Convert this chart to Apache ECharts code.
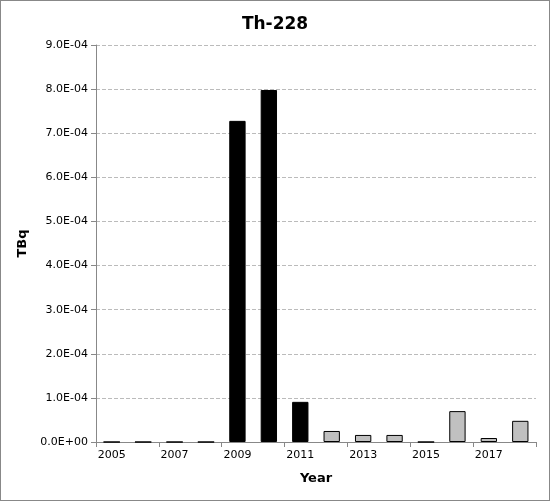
<!DOCTYPE html>
<html><head><meta charset="utf-8">
<script src="https://cdn.jsdelivr.net/npm/echarts@6/dist/echarts.min.js"></script>
<style>html,body{margin:0;padding:0;}#c{width:550px;height:501px;box-sizing:border-box;border:1px solid #888;}</style>
</head><body><div id="c"></div>
<script>
const years = ['2005','2006','2007','2008','2009','2010','2011','2012','2013','2014','2015','2016','2017','2018'];
const values = [0,0,0,0,7.28e-4,7.98e-4,0.91e-4,0.25e-4,0.16e-4,0.16e-4,0,0.70e-4,0.09e-4,0.48e-4];
const blackYears = ['2009','2010','2011'];
const chart = echarts.init(document.getElementById('c'));
chart.setOption({
  animation:false,
  title:{text:'Th-228',left:'center',top:10,textStyle:{fontFamily:'DejaVu Sans',fontSize:17,fontWeight:'bold',color:'#000'}},
  grid:{left:95,right:13,top:44,bottom:58},
  xAxis:{type:'category',data:years,name:'Year',nameLocation:'middle',nameGap:30,
    nameTextStyle:{fontFamily:'DejaVu Sans',fontSize:13,fontWeight:'bold',color:'#000'},
    axisLine:{lineStyle:{color:'#888'}},axisTick:{show:true,alignWithLabel:false,lineStyle:{color:'#888'}},
    axisLabel:{fontFamily:'DejaVu Sans',fontSize:11,color:'#000'}},
  yAxis:{type:'value',min:0,max:9e-4,interval:1e-4,name:'TBq',nameLocation:'middle',nameGap:65,
    nameTextStyle:{fontFamily:'DejaVu Sans',fontSize:13,fontWeight:'bold',color:'#000'},
    axisLine:{show:true,lineStyle:{color:'#888'}},axisTick:{show:true,lineStyle:{color:'#888'}},
    axisLabel:{fontFamily:'DejaVu Sans',fontSize:11,color:'#000',formatter:v=>{
      const m=(v/1e-4);return (v===0?'0.0E+00':m.toFixed(1)+'E-04');}},
    splitLine:{lineStyle:{color:'#bbb',type:'dashed'}}},
  series:[{type:'bar',barWidth:'52%',
    data:values.map((v,i)=>({value:v,itemStyle:{color:blackYears.includes(years[i])?'#000':'#c0c0c0',borderColor:'#000',borderWidth:1}}))}]
});
</script></body></html>
